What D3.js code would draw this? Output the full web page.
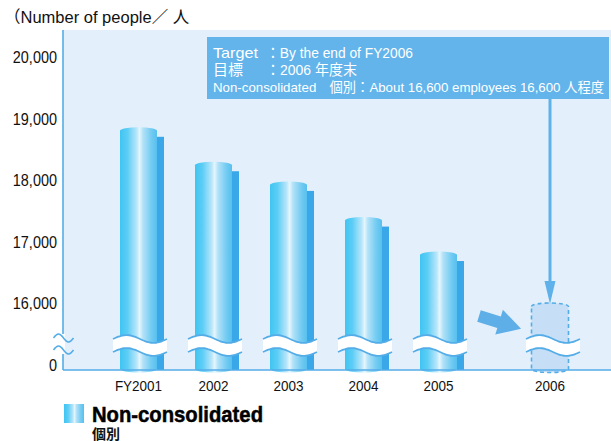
<!DOCTYPE html>
<html lang="en">
<head>
  <meta charset="UTF-8">
  <title>Non-consolidated employees</title>
  <script src="https://d3js.org/d3.v7.min.js"></script>
  <style>
    body { margin: 0; background: #fff; }
    text { font-family: "Liberation Sans", Arial, "Noto Sans CJK JP", sans-serif; }
  </style>
</head>
<body>
  <svg width="611" height="441"></svg>
  <script>
    // data
    const yearLabels = ["FY2001", "2002", "2003", "2004", "2005"];
    const fiscalYears = [2001, 2002, 2003, 2004, 2005];
    const employees = [18800, 18240, 17920, 17340, 16780];
    const yTicks = [0, 16000, 17000, 18000, 19000, 20000];
    const targetYear = 2006;
    const targetLabel = "2006";
    const targetDrawnTo = 16000; // box is drawn at the break, not at scale
    const calloutLines = [
      ["Target", "：By the end of FY2006"],
      ["目標", "：2006 年度末"],
      ["Non-consolidated　個別：About 16,600 employees  16,600 人程度", ""]
    ];

    const svg = d3.select("svg");
    const blue = "#55ade8";

    // squeeze a text to look like the condensed face of the original
    function condense(sel, k) {
      sel.each(function() {
        this.setAttribute("textLength", this.getComputedTextLength() * k);
        this.setAttribute("lengthAdjust", "spacingAndGlyphs");
      });
    }

    // piecewise scales (broken y axis between 0 and 16,000)
    const x = d3.scaleLinear().domain([2001, 2005, 2006]).range([138.5, 438.5, 550]);
    const y = d3.scaleLinear().domain([0, 16000, 20000]).range([368, 303, 57]);
    const baseY = 370, plotLeft = 63, plotTop = 30, barW = 37, ry = 3.5;

    const defs = svg.append("defs");
    const grad = defs.append("linearGradient").attr("id", "cyl");
    [[0, "#3fc5f3"], [0.2, "#5ccdf5"], [0.45, "#b8e6fa"], [0.53, "#e4f6fd"], [0.62, "#b3e2f8"],
     [0.85, "#72cbf2"], [1, "#56c0ef"]].forEach(s =>
      grad.append("stop").attr("offset", s[0]).attr("stop-color", s[1]));

    // plot area
    svg.append("rect").attr("x", plotLeft).attr("y", plotTop)
      .attr("width", 611 - plotLeft).attr("height", baseY - plotTop).attr("fill", "#e3effa");

    svg.append("text").attr("x", 4).attr("y", 23).attr("font-size", 16.5).attr("fill", "#111")
      .text("（Number of people／ 人");

    // y tick labels
    svg.append("g").selectAll("text").data(yTicks).join("text")
      .attr("x", 57).attr("y", d => d === 0 ? y(d) - 3 : y(d))
      .attr("dy", "0.36em").attr("text-anchor", "end")
      .attr("font-size", 17).attr("fill", "#111")
      .text(d => d3.format(",")(d))
      .call(condense, 0.85);

    const cylinder = (cx, yt, yb) => {
      const x0 = cx - barW / 2, x1 = cx + barW / 2, r = barW / 2;
      return `M${x0},${yt} A${r},${ry} 0 0 1 ${x1},${yt} L${x1},${yb} A${r},${ry} 0 0 1 ${x0},${yb} Z`;
    };

    const bars = fiscalYears.map((fy, i) => ({ fy, label: yearLabels[i], v: employees[i] }));

    // shadow strip
    svg.append("g").selectAll("rect").data(bars).join("rect")
      .attr("x", d => x(d.fy) + barW / 2).attr("y", d => y(d.v) + 6)
      .attr("width", 7).attr("height", d => baseY - y(d.v) - 6)
      .attr("fill", "#3aa7e8");

    svg.append("g").selectAll("path").data(bars).join("path")
      .attr("d", d => cylinder(x(d.fy), y(d.v), baseY - 1))
      .attr("fill", "url(#cyl)");

    // target box
    svg.append("path")
      .attr("d", cylinder(x(targetYear), y(targetDrawnTo) + ry, baseY - 1))
      .attr("fill", "#c6dff6").attr("stroke", blue).attr("stroke-width", 1.6)
      .attr("stroke-dasharray", "4,3");

    // axes lines
    svg.append("line").attr("x1", plotLeft).attr("x2", plotLeft).attr("y1", plotTop).attr("y2", baseY)
      .attr("stroke", blue).attr("stroke-width", 1.6);
    svg.append("line").attr("x1", plotLeft).attr("x2", 611).attr("y1", baseY).attr("y2", baseY)
      .attr("stroke", blue).attr("stroke-width", 1.6);

    // wavy break marks
    const wave = (cx, cy, hw, off) => d3.range(0, 1.001, 0.05)
      .map(t => [cx - hw + 2 * hw * t, cy + off - 4 * Math.sin(2 * Math.PI * t)]);
    const line = d3.line().curve(d3.curveBasis);
    function breakBand(cx, cy, hw) {
      const a = wave(cx, cy, hw, -6.5), b = wave(cx, cy, hw, 6.5);
      const g = svg.append("g");
      g.append("path").attr("d", line(a) + "L" + line(b.slice().reverse()).slice(1) + "Z")
        .attr("fill", "#fff");
      [a, b].forEach(p => g.append("path").attr("d", line(p))
        .attr("fill", "none").attr("stroke", blue).attr("stroke-width", 1.8));
    }
    bars.forEach(d => breakBand(x(d.fy) + 1.5, 345.5, 27));
    breakBand(x(targetYear) + 3, 345.5, 27);

    // axis break marks
    svg.append("rect").attr("x", plotLeft - 2).attr("y", 334).attr("width", 4).attr("height", 20).attr("fill", "#fff");
    [338, 350].forEach(cy => svg.append("path")
      .attr("d", line(wave(63.5, cy, 10, 0)))
      .attr("fill", "none").attr("stroke", blue).attr("stroke-width", 1.6));

    // x labels
    svg.append("g").selectAll("text")
      .data(bars.map(d => [d.fy, d.label]).concat([[targetYear, targetLabel]]))
      .join("text")
      .attr("x", d => x(d[0])).attr("y", 391).attr("text-anchor", "middle")
      .attr("font-size", 15.5).attr("fill", "#111").text(d => d[1])
      .call(condense, 0.87);

    // callout
    svg.append("rect").attr("x", 207).attr("y", 37).attr("width", 402).attr("height", 62)
      .attr("fill", "#62b4eb");
    const segW = [[45, 147], [30, 91], [391, 0]];
    calloutLines.forEach((l, i) => {
      svg.append("text").attr("x", 213).attr("y", 58 + i * 17)
        .attr("font-size", i === 2 ? 13.5 : 14.5).attr("fill", "#fff").text(l[0])
        .attr("textLength", segW[i][0]).attr("lengthAdjust", "spacingAndGlyphs");
      if (l[1]) svg.append("text").attr("x", 266).attr("y", 58 + i * 17)
        .attr("font-size", 14.5).attr("fill", "#fff").text(l[1])
        .attr("textLength", segW[i][1]).attr("lengthAdjust", "spacingAndGlyphs");
    });

    // thin arrow to target
    svg.append("line").attr("x1", x(targetYear)).attr("x2", x(targetYear))
      .attr("y1", 99).attr("y2", 285).attr("stroke", "#5fb1ea").attr("stroke-width", 3);
    svg.append("path")
      .attr("d", `M${x(targetYear) - 5.5},281 L${x(targetYear) + 5.5},281 L${x(targetYear)},304 Z`)
      .attr("fill", "#5fb1ea");

    // fat arrow
    svg.append("path")
      .attr("d", "M0,-6 L21,-6 L21,-13 L44,0 L21,13 L21,6 L0,6 Z")
      .attr("transform", "translate(479,316) rotate(17)")
      .attr("fill", "#5eaee8");

    // legend
    svg.append("rect").attr("x", 64).attr("y", 404).attr("width", 20).attr("height", 19)
      .attr("fill", "url(#cyl)");
    svg.append("text").attr("x", 92).attr("y", 422).attr("font-size", 22.5).attr("font-weight", "bold")
      .attr("fill", "#000").attr("stroke", "#000").attr("stroke-width", 0.5)
      .attr("textLength", 171).attr("lengthAdjust", "spacingAndGlyphs")
      .text("Non-consolidated");
    svg.append("text").attr("x", 92).attr("y", 439).attr("font-size", 14).attr("font-weight", "bold")
      .attr("fill", "#111").text("個別");
  </script>
</body>
</html>
